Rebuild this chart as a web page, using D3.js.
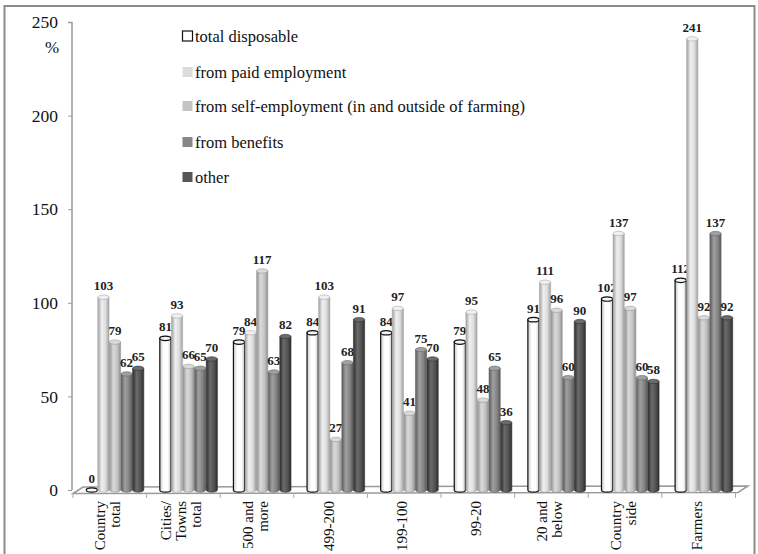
<!DOCTYPE html>
<html><head><meta charset="utf-8">
<script src="https://cdn.jsdelivr.net/npm/d3@7"></script>
<style>body{margin:0;background:#fff}svg{display:block}
svg text{font-family:"Liberation Serif","Times New Roman",Times,serif;}</style>
</head><body>
<svg id="c" width="758" height="554"></svg>
<script>
const categories = [["Country","total"],["Cities/","Towns","total"],["500 and","more"],["499-200"],["199-100"],["99-20"],["20 and","below"],["Country","side"],["Farmers"]];
const seriesNames = ["total disposable","from paid employment","from self-employment (in and outside of farming)","from benefits","other"];
const totalDisposable = [0,81,79,84,84,79,91,102,112];
const paidEmployment = [103,93,84,103,97,95,111,137,241];
const selfEmployment = [79,66,117,27,41,48,96,97,92];
const benefits = [62,65,63,68,75,65,60,60,137];
const other = [65,70,82,91,70,36,90,58,92];
const yTicks = [0,50,100,150,200,250];

const series = [totalDisposable, paidEmployment, selfEmployment, benefits, other];
const styles = [
  {base:"#ffffff", light:"#ffffff", dark:"#c8c8c8", stroke:"#111", legend:"#ffffff"},
  {base:"#dcdcdc", light:"#f0f0f0", dark:"#a0a0a0", stroke:"#aaa", legend:"#dcdcdc"},
  {base:"#c4c4c4", light:"#dadada", dark:"#909090", stroke:"#999", legend:"#c4c4c4"},
  {base:"#858585", light:"#a0a0a0", dark:"#5a5a5a", stroke:"#666", legend:"#878787"},
  {base:"#525252", light:"#6a6a6a", dark:"#2e2e2e", stroke:"#333", legend:"#555555"}
];

const svg = d3.select("#c");

// frame
svg.append("rect").attr("x",4.5).attr("y",6).attr("width",750).attr("height",570)
  .attr("fill","none").attr("stroke","#8c8c8c").attr("stroke-width",2);

const y = d3.scaleLinear().domain([0,250]).range([490,22]);
const x = d3.scaleBand().domain(d3.range(categories.length)).range([73,735.5]);
const xs = d3.scaleBand().domain(d3.range(5)).range([13,71]).paddingInner(0.0);

// defs gradients
const defs = svg.append("defs");
styles.forEach((s,i)=>{
  const g = defs.append("linearGradient").attr("id","g"+i).attr("x1","0").attr("x2","1").attr("y1","0").attr("y2","0");
  g.append("stop").attr("offset","0%").attr("stop-color",s.dark);
  g.append("stop").attr("offset","35%").attr("stop-color",s.light);
  g.append("stop").attr("offset","70%").attr("stop-color",s.base);
  g.append("stop").attr("offset","100%").attr("stop-color",s.dark);
});

// y axis
const ax = svg.append("g").attr("transform","translate(72,0)")
  .call(d3.axisLeft(y).tickValues(yTicks).tickSize(4).tickPadding(10));
ax.select(".domain").attr("stroke","#999").attr("stroke-width",1.5).attr("d","M-4,22.5H0V490");
ax.selectAll(".tick line").attr("stroke","#999");
ax.selectAll(".tick text").attr("font-family",null).attr("font-size",17.5).attr("fill","#111");
svg.append("text").attr("x",52).attr("y",53).attr("text-anchor","middle")
  .attr("font-size",17).attr("fill","#111").text("%");

// floor
svg.append("path")
  .attr("d",`M73,493.5L83,487L748,486L738,492.5Z`)
  .attr("fill","#fff").attr("stroke","#9a9a9a").attr("stroke-width",1.5);

// category ticks
svg.append("g").selectAll("line").data(d3.range(categories.length+1)).join("line")
  .attr("x1",d=>73+d*x.bandwidth()).attr("x2",d=>73+d*x.bandwidth())
  .attr("y1",493).attr("y2",498).attr("stroke","#aaa");

// bars
const bw = xs.bandwidth();
const ry = 2.2;
series.forEach((vals,si)=>{
  const st = styles[si];
  const g = svg.append("g");
  vals.forEach((v,ci)=>{
    const x0 = x(ci)+xs(si)+0.2;
    const w = bw-0.4;
    const top = y(v), bot = y(0);
    const cx = x0+w/2;
    if (v>0){
      g.append("path")
        .attr("d",`M${x0},${top}V${bot}A${w/2},${ry} 0 0 0 ${x0+w},${bot}V${top}Z`)
        .attr("fill",`url(#g${si})`).attr("stroke",st.stroke).attr("stroke-width",si===0?1.2:0.6);
    }
    g.append("ellipse").attr("cx",cx).attr("cy",top).attr("rx",w/2).attr("ry",ry)
      .attr("fill",si===0?"#f4f4f4":st.light).attr("stroke",si===0?"#111":st.stroke).attr("stroke-width",si===0?1.2:0.6);
    svg.append("text").attr("x",cx).attr("y",top-7).attr("text-anchor","middle")
      .attr("font-weight","bold").attr("font-size",13).attr("fill","#222")
      .text(v);
  });
});

// category labels (rotated)
categories.forEach((lines,ci)=>{
  const cx = x(ci)+x.bandwidth()/2 - 2;
  const n = lines.length, lh = 15;
  const t = svg.append("text").attr("font-size",15).attr("fill","#111")
    .attr("text-anchor","end")
    .attr("transform",`translate(${cx},501) rotate(-90)`);
  lines.forEach((l,li)=>{
    t.append("tspan").attr("x",0).attr("y",(li-(n-1)/2)*lh+5).text(l);
  });
});

// legend
const lg = svg.append("g");
const ly = [36,72,106,142,177];
seriesNames.forEach((n,i)=>{
  lg.append("rect").attr("x",182.5).attr("y",ly[i]-5).attr("width",10).attr("height",10)
    .attr("fill",styles[i].legend).attr("stroke",i===0?"#111":"none").attr("stroke-width",1.2);
  lg.append("text").attr("x",195).attr("y",ly[i]+5.5).attr("font-size",16.5)
    .attr("fill","#111").text(n);
});
</script>
</body></html>
